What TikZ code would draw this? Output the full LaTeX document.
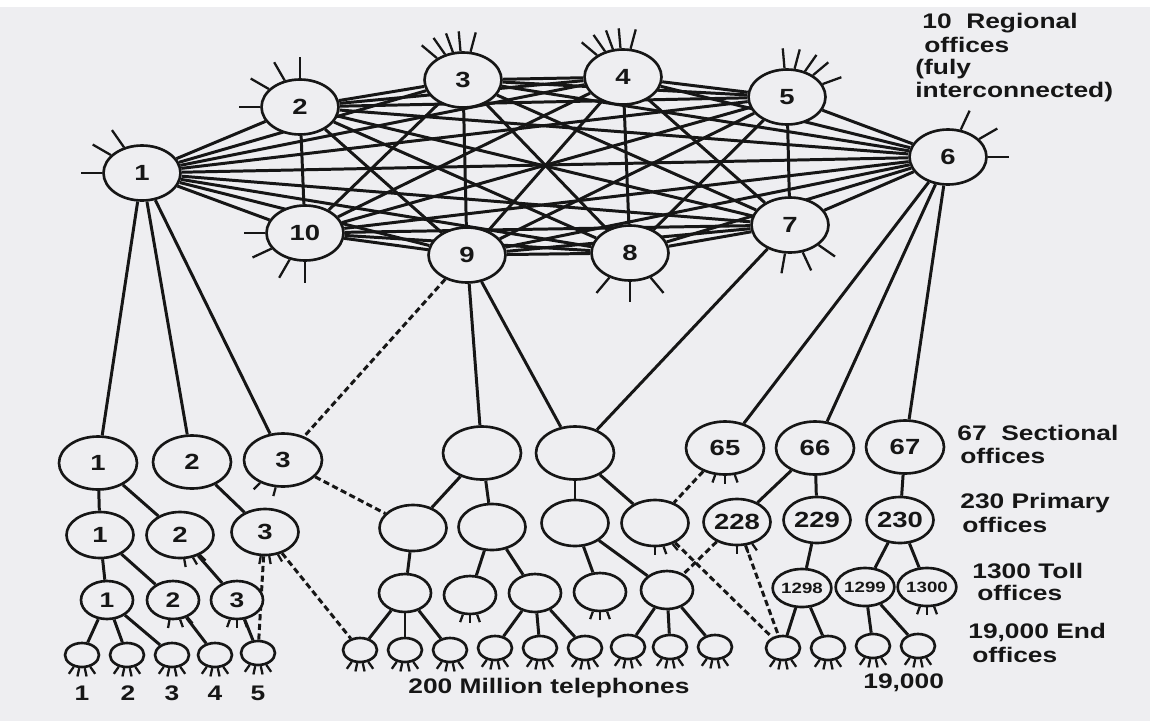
\documentclass[tikz,border=0pt]{standalone}
\usepackage{fontspec}
\setmainfont{Liberation Sans}
\usetikzlibrary{shapes.geometric}
\pgfdeclarelayer{paper}
\pgfdeclarelayer{wires}
\pgfsetlayers{paper,wires,main}
\definecolor{paper}{RGB}{238,238,241}
\definecolor{ink}{RGB}{22,22,22}
% horizontally widened lettering
\newcommand\sx[1]{\scalebox{1.25}[1]{#1}}
% short radiating strokes round an office
\newcommand\rays[3]{\foreach \ang in {#2} {\draw[spike] (#1.\ang) -- ++(\ang:#3);}}

\tikzset{
  office/.style={ellipse, draw=ink, fill=paper, line width=1.5pt, inner sep=0pt,
    font=\fontsize{12.5}{14}\selectfont\bfseries, text=ink},
  regional/.style={office, minimum width=1.54cm, minimum height=1.1cm},
  sectional/.style={office, minimum width=1.56cm, minimum height=1.06cm},
  primary/.style={office, minimum width=1.34cm, minimum height=0.92cm},
  toll/.style={office, minimum width=1.04cm, minimum height=0.76cm, font=\fontsize{8.5}{10}\selectfont\bfseries},
  endoff/.style={office, minimum width=0.68cm, minimum height=0.48cm},
  trunk/.style={draw=ink, line width=1.7pt},
  alt/.style={trunk, dash pattern=on 3.5pt off 2pt},
  spike/.style={draw=ink, line width=1.3pt},
  caption/.style={font=\fontsize{12}{14}\selectfont\bfseries, text=ink, inner sep=0pt, anchor=base west},
}

\begin{document}
\begin{tikzpicture}[x=0.02cm,y=0.02cm]
\useasboundingbox (0,0) rectangle (1150,-721);
\begin{pgfonlayer}{paper}
  \fill[white] (0,0) rectangle (1150,-721);
  \fill[paper] (0,-7) rectangle (1150,-721);
\end{pgfonlayer}

% regional offices
\node[regional] (R1) at (142,-173) {\sx{1}};
\node[regional] (R2) at (300,-107) {\sx{2}};
\node[regional] (R3) at (463,-80) {\sx{3}};
\node[regional] (R4) at (623,-77) {\sx{4}};
\node[regional] (R5) at (787,-97) {\sx{5}};
\node[regional] (R6) at (948,-157) {\sx{6}};
\node[regional] (R7) at (790,-225) {\sx{7}};
\node[regional] (R8) at (630,-253) {\sx{8}};
\node[regional] (R9) at (467,-255) {\sx{9}};
\node[regional] (R10) at (305,-233) {\sx{10}};

% sectional offices
\node[sectional] (S1) at (98,-463) {\sx{1}};
\node[sectional] (S2) at (192,-462) {\sx{2}};
\node[sectional] (S3) at (283,-460) {\sx{3}};
\node[sectional] (SA) at (482,-453) {};
\node[sectional] (SB) at (575,-453) {};
\node[sectional] (S65) at (725,-448) {\sx{65}};
\node[sectional] (S66) at (815,-448) {\sx{66}};
\node[sectional] (S67) at (905,-447) {\sx{67}};

% primary offices
\node[primary] (P1) at (100,-535) {\sx{1}};
\node[primary] (P2) at (180,-535) {\sx{2}};
\node[primary] (P3) at (265,-532) {\sx{3}};
\node[primary] (Pa) at (413,-528) {};
\node[primary] (Pb) at (492,-527) {};
\node[primary] (Pc) at (575,-523) {};
\node[primary] (Pd) at (655,-523) {};
\node[primary] (P228) at (737,-522) {\sx{228}};
\node[primary] (P229) at (817,-520) {\sx{229}};
\node[primary] (P230) at (900,-520) {\sx{230}};

% toll offices
\node[toll] (T1) at (107,-600) {\fontsize{12}{14}\selectfont\sx{1}};
\node[toll] (T2) at (173,-600) {\fontsize{12}{14}\selectfont\sx{2}};
\node[toll] (T3) at (237,-600) {\fontsize{12}{14}\selectfont\sx{3}};
\node[toll] (Ta) at (405,-593) {};
\node[toll] (Tb) at (470,-595) {};
\node[toll] (Tc) at (535,-593) {};
\node[toll] (Td) at (600,-592) {};
\node[toll] (Te) at (667,-590) {};
\node[toll] (T1298) at (802,-588) {\sx{1298}};
\node[toll] (T1299) at (865,-587) {\sx{1299}};
\node[toll] (T1300) at (927,-587) {\sx{1300}};

% end offices
\node[endoff] (E1) at (82,-655) {};
\node[endoff] (E2) at (127,-655) {};
\node[endoff] (E3) at (172,-655) {};
\node[endoff] (E4) at (215,-655) {};
\node[endoff] (E5) at (258,-653) {};
\node[endoff] (M1) at (360,-650) {};
\node[endoff] (M2) at (405,-650) {};
\node[endoff] (M3) at (450,-650) {};
\node[endoff] (M4) at (495,-648) {};
\node[endoff] (M5) at (540,-648) {};
\node[endoff] (M6) at (585,-648) {};
\node[endoff] (M7) at (628,-647) {};
\node[endoff] (M8) at (670,-647) {};
\node[endoff] (M9) at (715,-647) {};
\node[endoff] (N1) at (783,-648) {};
\node[endoff] (N2) at (828,-648) {};
\node[endoff] (N3) at (873,-646) {};
\node[endoff] (N4) at (918,-646) {};

\begin{pgfonlayer}{wires}
  % fully interconnected regional mesh
  \foreach \a in {1,...,10} {
    \foreach \b in {1,...,10} {
      \ifnum\a<\b \draw[trunk] (R\a) -- (R\b); \fi
    }
  }
  % final routes
  \foreach \u/\v in {R1/S1, R1/S2, R1/S3, R9/SA, R9/SB, R7/SB, R6/S65, R6/S66, R6/S67,
      S1/P1, S1/P2, S2/P3, SA/Pa, SA/Pb, SB/Pc, SB/Pd, S66/P228, S66/P229, S67/P230,
      P1/T1, P1/T2, P2/T3, Pa/Ta, Pb/Tb, Pb/Tc, Pc/Td, Pc/Te,
      P229/T1298, P230/T1299, P230/T1300,
      T1/E1, T1/E2, T1/E3, T2/E4, T3/E5,
      Ta/M1, Ta/M2, Ta/M3, Tc/M4, Tc/M5, Tc/M6, Te/M7, Te/M8, Te/M9,
      T1298/N1, T1298/N2, T1299/N3, T1299/N4}
    {\draw[trunk] (\u) -- (\v);}
  % high-usage routes
  \foreach \u/\v in {R9/S3, S3/Pa, P3/E5, P3/M1, S65/Pd, Pd/N1, P228/Te, P228/N1}
    {\draw[alt] (\u) -- (\v);}
\end{pgfonlayer}

% subscriber lines round the regional offices
\rays{R1}{180,150,125}{0.42cm}
\rays{R2}{180,150,120,90}{0.42cm}
\rays{R3}{140,125,110,95,75}{0.4cm}
\rays{R4}{140,125,110,95,75}{0.4cm}
\rays{R5}{95,75,55,40,20}{0.4cm}
\rays{R6}{65,30,0}{0.42cm}
\rays{R7}{260,295,325}{0.4cm}
\rays{R8}{230,270,310}{0.4cm}
\rays{R10}{180,205,240,270}{0.42cm}

% subscriber lines below the lower offices
\rays{S3}{225,255}{0.18cm}
\rays{P2}{280,300,315}{0.16cm}
\rays{P3}{260,280,300}{0.16cm}
\rays{Pd}{270,290,310}{0.16cm}
\rays{S65}{250,270,290}{0.16cm}
\rays{P228}{270,290,305}{0.16cm}
\rays{T2}{260,290,310}{0.16cm}
\rays{T3}{250,270,290}{0.16cm}
\rays{Tb}{250,270,290}{0.16cm}
\rays{Td}{250,270,290}{0.16cm}
\rays{T1300}{250,270,290}{0.16cm}
\foreach \e in {E1,E2,E3,E4,E5,M1,M2,M3,M4,M5,M6,M7,M8,M9,N1,N2,N3,N4}
  {\rays{\e}{235,258,282,305}{0.17cm}}

% captions
\node[caption] (c1) at (922,-28) {\sx{10\ \ Regional}};
\node[caption] (c2) at (924,-52) {\sx{offices}};
\node[caption] (c3) at (915,-74) {\sx{(fuly}};
\node[caption] (c4) at (915,-97) {\sx{interconnected)}};

\node[caption] (l1) at (957,-440) {\sx{67\ \ Sectional}};
\node[caption] (l2) at (960,-463) {\sx{offices}};
\node[caption] (l3) at (960,-508) {\sx{230 Primary}};
\node[caption] (l4) at (962,-532) {\sx{offices}};
\node[caption] (l5) at (972,-578) {\sx{1300 Toll}};
\node[caption] (l6) at (977,-600) {\sx{offices}};
\node[caption] (l7) at (968,-638) {\sx{19,000 End}};
\node[caption] (l8) at (972,-662) {\sx{offices}};

\node[caption, anchor=base] (n1) at (82,-700) {\sx{1}};
\node[caption, anchor=base] (n2) at (128,-700) {\sx{2}};
\node[caption, anchor=base] (n3) at (172,-700) {\sx{3}};
\node[caption, anchor=base] (n4) at (215,-700) {\sx{4}};
\node[caption, anchor=base] (n5) at (258,-700) {\sx{5}};
\node[caption] (tel) at (408,-693) {\sx{200 Million telephones}};
\node[caption] (tot) at (863,-688) {\sx{19,000}};
\end{tikzpicture}
\end{document}
